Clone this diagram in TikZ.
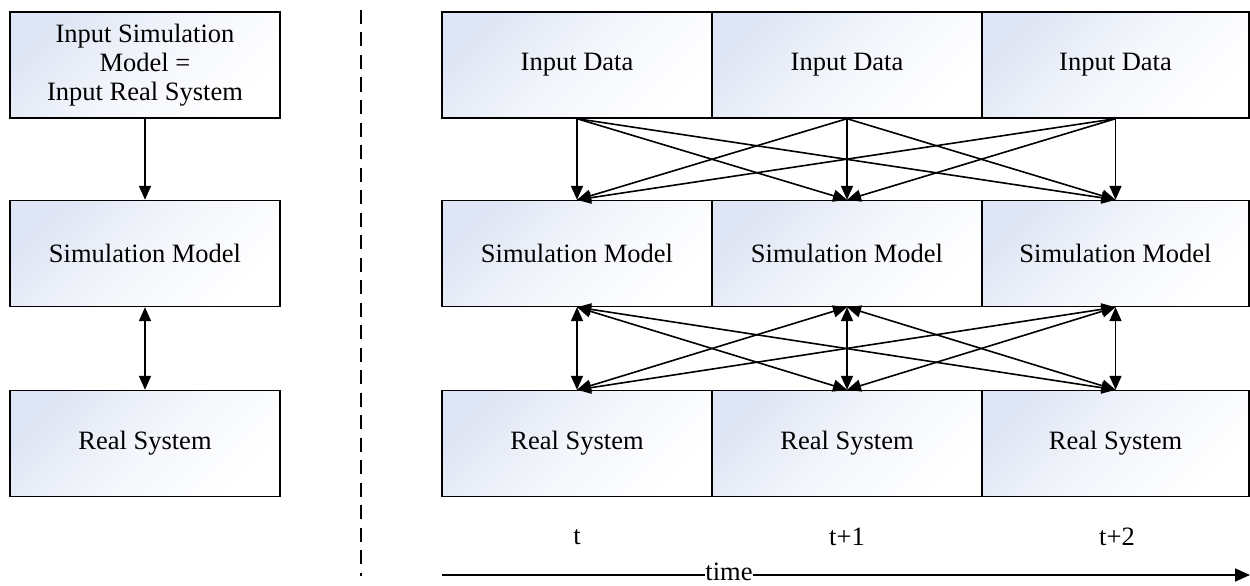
\documentclass[tikz,border=0pt]{standalone}
\usepackage{fontspec}
\setmainfont{Liberation Serif}
\usetikzlibrary{arrows.meta}
\definecolor{gradcol}{RGB}{222,229,244}
\tikzset{
  box/.style={draw=black, line width=1.4pt, rectangle, inner sep=0pt,
    minimum width=270pt, minimum height=106pt,
    top color=gradcol, bottom color=white, middle color=white!65!gradcol, shading angle=45,
    font=\fontsize{26.5}{29}\selectfont, align=center},
  conn/.style={line width=1.6pt, -{Triangle[length=14pt,width=12pt]}},
  dconn/.style={line width=1.6pt, {Triangle[length=14pt,width=12pt]}-{Triangle[length=14pt,width=12pt]}},
  lbl/.style={font=\fontsize{26.5}{29}\selectfont, inner sep=0pt},
}
\begin{document}
\begin{tikzpicture}[x=1pt,y=-1pt]
\useasboundingbox (0,0) rectangle (1250,586);
% left column
\node[box] (L1) at (145,65) {Input Simulation\\Model =\\Input Real System};
\node[box] (L2) at (145,253.5) {Simulation Model};
\node[box] (L3) at (145,443.5) {Real System};
\draw[conn] (L1.south) -- (L2.north);
\draw[dconn] (L2.south) -- (L3.north);
% separator
\coordinate (sepA) at (361,10);
\coordinate (sepB) at (361,576);
\draw[line width=1.8pt, dash pattern=on 14pt off 8.5pt] (sepA) -- (sepB);
% right grid
\node[box] (I1) at (577,65) {Input Data};
\node[box] (I2) at (847,65) {Input Data};
\node[box, minimum width=267pt] (I3) at (1115.5,65) {Input Data};
\node[box] (S1) at (577,253.5) {Simulation Model};
\node[box] (S2) at (847,253.5) {Simulation Model};
\node[box, minimum width=267pt] (S3) at (1115.5,253.5) {Simulation Model};
\node[box] (R1) at (577,443.5) {Real System};
\node[box] (R2) at (847,443.5) {Real System};
\node[box, minimum width=267pt] (R3) at (1115.5,443.5) {Real System};
\foreach \a in {1,2,3}{
  \foreach \b in {1,2,3}{
    \draw[conn] (I\a.south) -- (S\b.north);
    \draw[dconn] (S\a.south) -- (R\b.north);
  }
}
% time labels
\node[lbl] (t0) at (577,537) {t};
\node[lbl] (t1) at (847,537) {t+1};
\node[lbl] (t2) at (1117,537) {t+2};
\coordinate (tA) at (442,575);
\coordinate (tB) at (1250,575);
\draw[line width=1.8pt, -{Triangle[length=15pt,width=13pt]}] (tA) -- (tB);
\node[lbl, fill=white, inner xsep=0.5pt, anchor=base] (time) at (729,580.5) {time};
\end{tikzpicture}
\end{document}
